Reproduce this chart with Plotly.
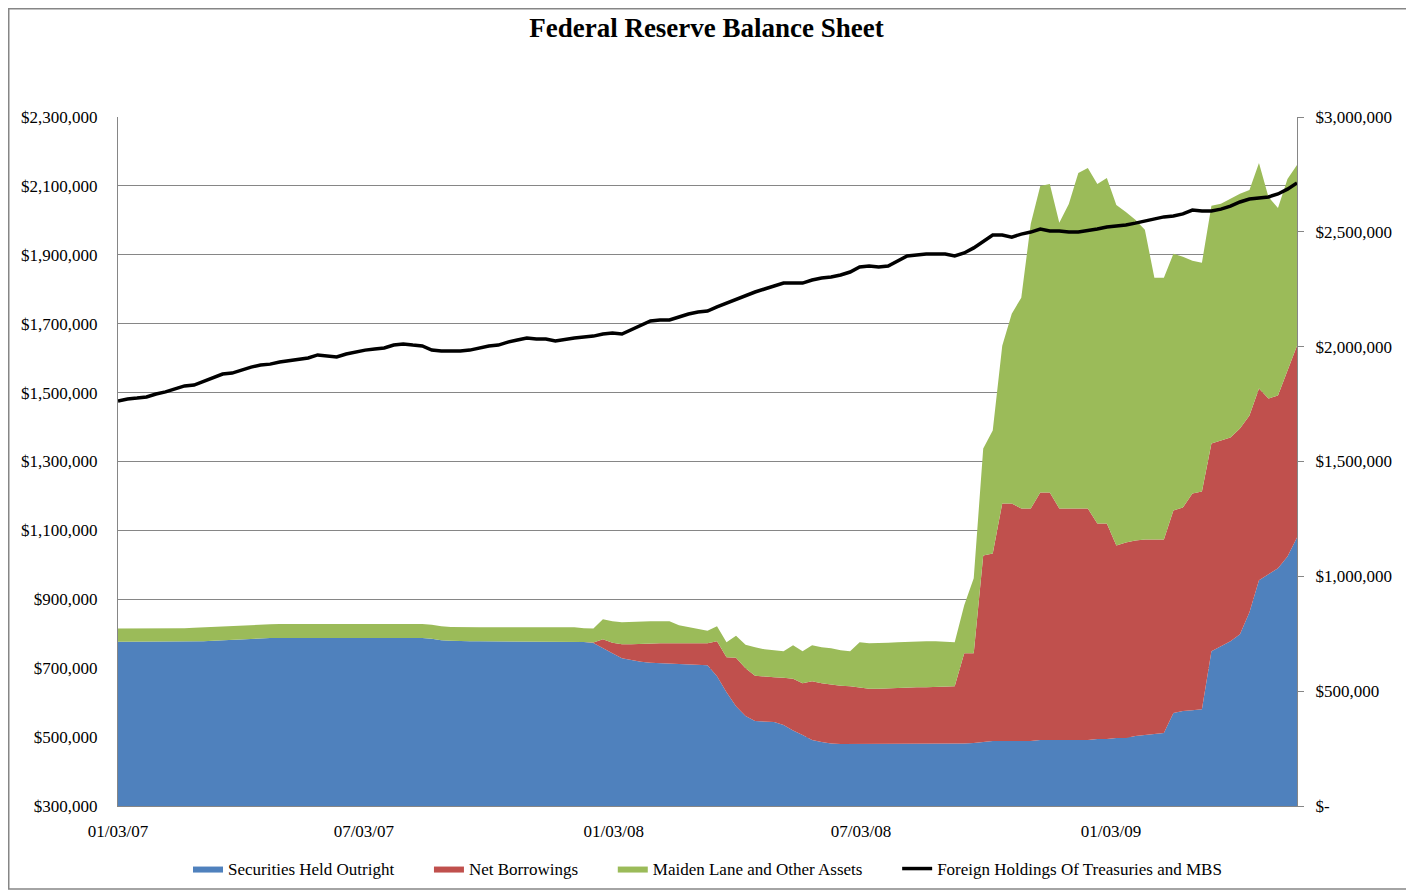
import pandas as pd
import plotly.graph_objects as go

# weekly balance sheet data, $ millions
dates = pd.date_range("2007-01-03", periods=125, freq="7D")

securities_held = [
    776800, 776800, 776800, 776800, 776800, 776800, 776800, 776800, 776800, 778300,
    779700, 781200, 782600, 784100, 785500, 787000, 787800, 787800, 787800, 787800,
    787800, 787800, 787800, 787800, 787800, 787800, 787800, 787800, 787800, 787800,
    787800, 787800, 787800, 785500, 781200, 779700, 778300, 778300, 778300, 778300,
    778300, 778300, 778300, 778300, 778300, 778300, 778300, 778300, 778300, 776200,
    773300, 759400, 743500, 729000, 723200, 718800, 715900, 714500, 713000, 711600,
    710100, 708700, 708700, 676800, 630400, 589900, 560900, 546400, 544900, 543500,
    534800, 518800, 505800, 491300, 485500, 481200, 479700, 479700, 479700, 479700,
    479700, 479700, 479700, 479700, 479700, 479700, 479700, 479700, 479700, 481200,
    482600, 485500, 488400, 488400, 488400, 488400, 488400, 491300, 491300, 491300,
    491300, 491300, 491300, 494200, 494200, 497100, 497100, 502900, 505800, 508700,
    511600, 569600, 575400, 578300, 581200, 749300, 763800, 778300, 798600, 862300,
    955100, 972500, 989900, 1024600, 1079700,
]

net_borrowings = [
    0, 0, 0, 0, 0, 0, 0, 0, 0, 0,
    0, 0, 0, 0, 0, 0, 0, 0, 0, 0,
    0, 0, 0, 0, 0, 0, 0, 0, 0, 0,
    0, 0, 0, 0, 0, 0, 0, 0, 0, 0,
    0, 0, 0, 0, 0, 0, 0, 0, 0, 0,
    1000, 24600, 30400, 40600, 46400, 52200, 56500, 58000, 59400, 60900,
    62300, 63800, 63800, 101400, 101400, 140600, 139100, 131900, 130400, 130400,
    137700, 150700, 150700, 171000, 171000, 171000, 169600, 168100, 165200, 160900,
    160900, 162300, 162300, 163800, 165200, 165200, 166700, 168100, 168100, 262300,
    260900, 542000, 544900, 689900, 689900, 675400, 675400, 718800, 718800, 672500,
    672500, 672500, 672500, 626100, 626100, 559400, 568100, 568100, 568100, 565200,
    562300, 588400, 591300, 629000, 631900, 602900, 597100, 591300, 597100, 571000,
    556500, 510100, 501400, 539100, 556500,
]

maiden_lane_other = [
    38300, 38300, 38300, 38300, 38300, 38300, 38300, 39100, 40600, 40600,
    40600, 40600, 40600, 40600, 39100, 39100, 39700, 40600, 40600, 40600,
    40600, 40600, 40600, 40600, 40600, 40600, 40600, 40600, 40600, 40600,
    40600, 40600, 40600, 40600, 40600, 40000, 40600, 40600, 40600, 40600,
    40600, 40600, 40600, 40600, 40600, 40600, 40600, 40600, 40600, 39700,
    40600, 58000, 62300, 63800, 65200, 65200, 63800, 63800, 63800, 52200,
    46400, 40600, 36200, 43500, 43500, 63800, 68100, 82600, 79700, 78300,
    76800, 97100, 92800, 104300, 104300, 105800, 102900, 101400, 130400, 131900,
    131900, 131900, 133300, 133300, 133300, 133300, 131900, 129000, 127500, 139100,
    217400, 310100, 356500, 458000, 550700, 611600, 826100, 889900, 895700, 829000,
    884000, 973900, 988400, 985500, 1002900, 988400, 959400, 930400, 898600, 759400,
    759400, 744900, 727500, 675400, 663800, 689900, 687000, 692800, 681200, 655100,
    655100, 585500, 544900, 556500, 524600,
]

foreign_holdings = [
    1763000, 1772000, 1776000, 1781000, 1794000, 1803000, 1816000, 1829000, 1833000, 1850000,
    1864000, 1881000, 1885000, 1898000, 1911000, 1920000, 1924000, 1933000, 1938000, 1946000,
    1951000, 1964000, 1959000, 1955000, 1968000, 1977000, 1985000, 1990000, 1994000, 2007000,
    2012000, 2007000, 2003000, 1985000, 1981000, 1981000, 1981000, 1985000, 1994000, 2003000,
    2007000, 2020000, 2029000, 2038000, 2033000, 2033000, 2025000, 2033000, 2038000, 2042000,
    2046000, 2055000, 2059000, 2055000, 2073000, 2094000, 2112000, 2116000, 2116000, 2129000,
    2142000, 2151000, 2155000, 2173000, 2190000, 2207000, 2221000, 2238000, 2251000, 2264000,
    2277000, 2277000, 2277000, 2290000, 2299000, 2303000, 2312000, 2325000, 2347000, 2351000,
    2347000, 2351000, 2373000, 2395000, 2399000, 2403000, 2403000, 2403000, 2395000, 2408000,
    2430000, 2460000, 2486000, 2486000, 2477000, 2490000, 2499000, 2512000, 2504000, 2504000,
    2499000, 2499000, 2504000, 2512000, 2521000, 2525000, 2530000, 2538000, 2547000, 2556000,
    2565000, 2569000, 2578000, 2595000, 2591000, 2591000, 2599000, 2612000, 2630000, 2643000,
    2647000, 2652000, 2665000, 2686000, 2713000,
]

date_ticks = ["2007-01-03", "2007-07-03", "2008-01-03", "2008-07-03", "2009-01-03"]
left_ticks = [300000, 500000, 700000, 900000, 1100000, 1300000,
              1500000, 1700000, 1900000, 2100000, 2300000]
left_labels = ["$300,000", "$500,000", "$700,000", "$900,000", "$1,100,000", "$1,300,000",
               "$1,500,000", "$1,700,000", "$1,900,000", "$2,100,000", "$2,300,000"]
right_ticks = [0, 500000, 1000000, 1500000, 2000000, 2500000, 3000000]
right_labels = ["$-", "$500,000", "$1,000,000", "$1,500,000", "$2,000,000", "$2,500,000", "$3,000,000"]

serif = "Liberation Serif, Times New Roman, serif"
grid_grey = "#868686"
pad = "\u00a0" * 7   # extra room after legend labels, like the Excel legend

# page body has an 8px margin, so the figure is sized to fill the rest
W, H = 1406, 884
ML, MR, MT, MB = 110, 117, 109, 86
pw, ph = W - ML - MR, H - MT - MB

fig = go.Figure()

areas = [
    ("Securities Held Outright", securities_held, "#4F81BD"),
    ("Net Borrowings", net_borrowings, "#C0504D"),
    ("Maiden Lane and Other Assets", maiden_lane_other, "#9BBB59"),
]
for name, vals, col in areas:
    fig.add_trace(go.Scatter(
        x=dates, y=vals, name=name + pad,
        stackgroup="assets", mode="lines",
        line=dict(width=0, color=col),
        fillcolor=col,
    ))

fig.add_trace(go.Scatter(
    x=dates, y=foreign_holdings, name="Foreign Holdings Of Treasuries and MBS",
    mode="lines", line=dict(color="black", width=3.5),
    yaxis="y2",
))

# outer chart border
fig.add_shape(type="rect", xref="paper", yref="paper",
              x0=(0.75 - ML) / pw, x1=(W - 2 - ML) / pw,
              y0=(MT + ph - (H - 3)) / ph, y1=(MT + ph - 0.75) / ph,
              line=dict(color=grid_grey, width=1.5), fillcolor="rgba(0,0,0,0)")

fig.update_layout(
    width=W, height=H,
    margin=dict(l=ML, r=MR, t=MT, b=MB, autoexpand=False),
    paper_bgcolor="white", plot_bgcolor="white",
    font=dict(family=serif, size=17, color="black"),
    title=dict(text="<b>Federal Reserve Balance Sheet</b>",
               x=(ML + pw / 2 - 1) / W, xanchor="center", y=1 - 20 / H, yanchor="middle",
               yref="container", font=dict(family=serif, size=27, color="black")),
    showlegend=True,
    legend=dict(orientation="h", x=0.5, xanchor="center", y=-63 / ph, yanchor="middle",
                traceorder="normal", font=dict(family=serif, size=17),
                itemwidth=30, bgcolor="rgba(0,0,0,0)"),
    xaxis=dict(type="date", range=[dates[0], dates[-1]],
               tickvals=date_ticks, tickformat="%m/%d/%y",
               showgrid=False, showline=True, linecolor=grid_grey,
               ticks="", ticklabelstandoff=10, zeroline=False),
    yaxis=dict(range=[300000, 2300000], tickvals=left_ticks, ticktext=left_labels,
               showgrid=True, gridcolor=grid_grey, gridwidth=1,
               showline=True, linecolor=grid_grey, zeroline=False,
               ticks="", ticklabelstandoff=16),
    yaxis2=dict(range=[0, 3000000], tickvals=right_ticks, ticktext=right_labels,
                overlaying="y", side="right", showgrid=False,
                showline=True, linecolor=grid_grey, zeroline=False,
                ticks="outside", ticklen=6, tickcolor=grid_grey,
                ticklabelstandoff=8),
)

fig.write_html("out.html")
